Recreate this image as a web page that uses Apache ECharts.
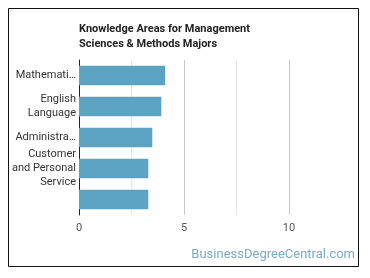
<!DOCTYPE html>
<html>
<head>
<meta charset="utf-8">
<script src="https://cdn.jsdelivr.net/npm/echarts@6/dist/echarts.min.js"></script>
<style>
  html, body { margin: 0; padding: 0; background: #fff; }
  #chart1 { width: 370px; height: 278px; }
</style>
</head>
<body>
<div id="chart1"></div>
<script>
(function(){

    // 类目与数值
    var areas = ['Mathematics', 'English\nLanguage', 'Administration and Management', 'Customer\nand Personal\nService', ''];
    var levels = [4.1, 3.92, 3.49, 3.3, 3.3];
    var xTicks = [0, 5, 10];

    var labelFont = '11px Roboto';
    var ctx = document.createElement('canvas').getContext('2d');
    ctx.font = labelFont;

    // 单行标签过长时截断加省略号
    function cutLabel(s){
        if (s.indexOf('\n') >= 0 || ctx.measureText(s).width <= 62) {
            return s;
        }
        var t = s;
        while (t.length > 1 && ctx.measureText(t + '…').width > 62) {
            t = t.slice(0, -1);
        }
        return t + '…';
    }

    var chart1 = echarts.init(document.getElementById('chart1'));

    var option = {
        animation: false,
        title: {
            text: 'Knowledge Areas for Management\nSciences & Methods Majors',
            left: 74,
            top: 17,
            textStyle: {
                fontFamily: 'Roboto',
                fontSize: 11,
                fontWeight: 'bold',
                color: '#222',
                lineHeight: 15
            }
        },
        grid: {
            left: 79,
            top: 60,
            width: 210,
            height: 155,
            containLabel: false
        },
        xAxis: {
            type: 'value',
            min: 0,
            max: 10,
            interval: 2.5,
            axisLine: { show: false },
            axisTick: { show: false },
            axisLabel: {
                margin: 8,
                fontFamily: 'Roboto',
                fontSize: 11,
                color: '#555',
                formatter: function(v){
                    return xTicks.indexOf(v) >= 0 ? String(v) : '';
                }
            },
            splitLine: {
                lineStyle: { color: ['#c8c8c8', '#e6e6e6'], width: 1 }
            }
        },
        yAxis: {
            type: 'category',
            inverse: true,
            data: areas,
            axisLine: { show: true, lineStyle: { color: '#222', width: 1 } },
            axisTick: { show: false },
            axisLabel: {
                margin: 3,
                fontFamily: 'Roboto',
                fontSize: 11,
                lineHeight: 14,
                color: '#333',
                formatter: cutLabel
            }
        },
        series: [
            {
                name: 'Level',
                type: 'bar',
                data: levels,
                barCategoryGap: '37%',
                itemStyle: { color: '#5ca3c1' }
            }
        ],
        graphic: [
            {
                type: 'rect',
                shape: { x: 8.5, y: 8.5, width: 350, height: 258 },
                style: { fill: 'none', stroke: '#111', lineWidth: 1 }
            },
            {
                type: 'text',
                right: 15,
                top: 248,
                style: {
                    text: 'BusinessDegreeCentral.com',
                    fontFamily: 'Roboto',
                    fontSize: 13,
                    fill: '#7baac3'
                }
            }
        ]
    };

    chart1.setOption(option);
    window.onresize = chart1.resize;

})();
</script>
</body>
</html>
